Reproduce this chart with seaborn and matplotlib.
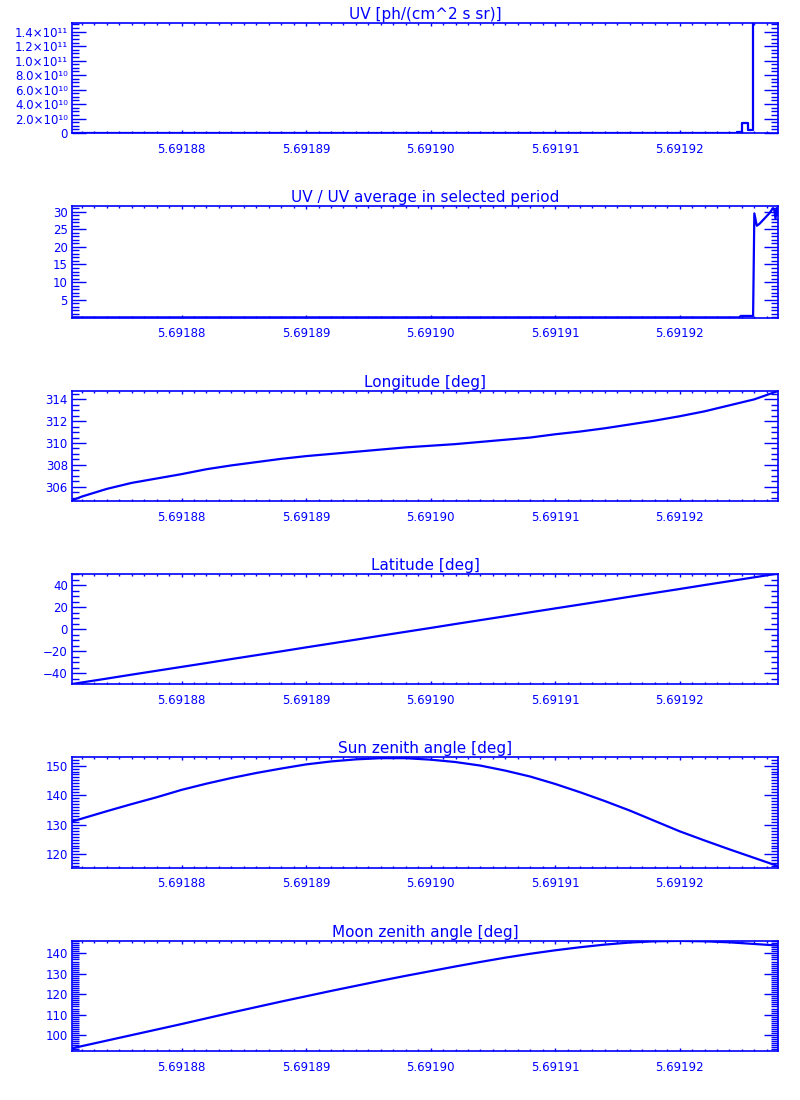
import matplotlib
matplotlib.use("Agg")
import matplotlib.pyplot as plt
import matplotlib.ticker as mticker
import seaborn as sns

sns.set_style("white")
plt.rcParams['font.family'] = ['DejaVu Sans']

BLUE = "#0000ff"

# common time axis for the orbit panels
time = [5.6918712, 5.691872, 5.691874, 5.691876, 5.691878, 5.691880,
        5.691882, 5.691884, 5.691886, 5.691888, 5.691890, 5.691892,
        5.691894, 5.691896, 5.691898, 5.691900, 5.691902, 5.691904,
        5.691906, 5.691908, 5.691910, 5.691912, 5.691914, 5.691916,
        5.691918, 5.691920, 5.691922, 5.691924, 5.691926, 5.691928]

longitude = [304.75, 305.1, 305.8, 306.35, 306.75, 307.15, 307.6, 307.95,
             308.25, 308.55, 308.8, 309.0, 309.2, 309.4, 309.6, 309.75,
             309.9, 310.1, 310.3, 310.5, 310.8, 311.05, 311.35, 311.7,
             312.05, 312.45, 312.9, 313.45, 314.0, 314.8]

latitude = [-49.7, -48.3, -44.8, -41.2, -37.7, -34.2, -30.7, -27.1, -23.6,
            -20.1, -16.5, -13.0, -9.5, -5.9, -2.4, 1.1, 4.7, 8.2, 11.7,
            15.3, 18.8, 22.3, 25.8, 29.4, 32.9, 36.4, 40.0, 43.5, 47.0, 50.6]

sun_zenith = [131.1, 132.1, 134.6, 137.0, 139.3, 141.8, 143.9, 145.8, 147.5,
              149.0, 150.4, 151.4, 152.1, 152.5, 152.5, 152.0, 151.2, 150.0,
              148.3, 146.3, 143.8, 141.0, 138.0, 134.8, 131.3, 127.8, 124.7,
              121.7, 118.8, 115.9]

moon_zenith = [93.5, 94.6, 97.3, 100.0, 102.7, 105.4, 108.2, 111.0, 113.7,
               116.4, 119.0, 121.6, 124.1, 126.6, 129.0, 131.3, 133.6, 135.8,
               137.9, 139.8, 141.5, 143.0, 144.3, 145.3, 145.9, 146.1, 145.9,
               145.4, 144.6, 143.8]

# UV signal (step data)
uv_time = [5.6918712, 5.6919246, 5.6919250, 5.6919255, 5.6919259, 5.6919279]
uv_flux = [0.0, 2.0e9, 1.35e10, 4.0e9, 1.2e12, 1.2e12]

# UV / average
ratio_time = [5.6918712, 5.6919248, 5.6919249, 5.6919259, 5.6919260, 5.6919262,
              5.6919264, 5.6919268, 5.6919272, 5.6919275, 5.6919276, 5.6919277,
              5.6919278, 5.6919279]
ratio = [0.0, 0.0, 0.4, 0.4, 29.5, 26.0, 26.5, 28.0, 29.5, 31.0, 30.5,
         28.0, 31.0, 29.5]

x_ticks = [5.69188, 5.69189, 5.69190, 5.69191, 5.69192]
x_lim = (5.6918712, 5.6919279)

uv_ticks = [0, 2e10, 4e10, 6e10, 8e10, 1e11, 1.2e11, 1.4e11]
uv_labels = ['0', '2.0×10¹⁰', '4.0×10¹⁰', '6.0×10¹⁰', '8.0×10¹⁰',
             '1.0×10¹¹', '1.2×10¹¹', '1.4×10¹¹']

panels = [
    ("UV [ph/(cm^2 s sr)]", uv_time, uv_flux, (0, 1.52e11), uv_ticks, 5e9, uv_labels, 'steps-post'),
    ("UV / UV average in selected period", ratio_time, ratio, (-0.1, 31.6), [5, 10, 15, 20, 25, 30], 1, None, 'default'),
    ("Longitude [deg]", time, longitude, (304.69, 314.79), [306, 308, 310, 312, 314], 0.5, None, 'default'),
    ("Latitude [deg]", time, latitude, (-49.7, 50.0), [-40, -20, 0, 20, 40], 5, None, 'default'),
    ("Sun zenith angle [deg]", time, sun_zenith, (115.5, 152.8), [120, 130, 140, 150], 1, None, 'default'),
    ("Moon zenith angle [deg]", time, moon_zenith, (92.2, 146.2), [100, 110, 120, 130, 140], 1, None, 'default'),
]

# panel tops / bottoms in pixels
tops = [23, 206, 390.7, 574, 757.3, 940.7]
bottoms = [133, 317.7, 501, 684, 867.7, 1051]

fig = plt.figure(figsize=(8, 11), dpi=100)
for i, (title, x, y, ylim, yticks, yminor, ylabels, dstyle) in enumerate(panels):
    ax = fig.add_axes([72 / 800, 1 - bottoms[i] / 1100, 706 / 800,
                       (bottoms[i] - tops[i]) / 1100])
    sns.lineplot(x=x, y=y, ax=ax, color=BLUE, linewidth=1.6,
                 estimator=None, sort=False, drawstyle=dstyle)
    ax.set_xlim(*x_lim)
    ax.set_ylim(*ylim)
    ax.xaxis.set_major_locator(mticker.FixedLocator(x_ticks))
    ax.xaxis.set_major_formatter(mticker.FormatStrFormatter('%.5f'))
    ax.xaxis.set_minor_locator(mticker.MultipleLocator(1e-6))
    ax.yaxis.set_major_locator(mticker.FixedLocator(yticks))
    ax.yaxis.set_minor_locator(mticker.MultipleLocator(yminor))
    if ylabels is not None:
        ax.set_yticklabels(ylabels)
    ax.set_title(title, color=BLUE, fontsize=11, pad=3)
    ax.tick_params(which='both', direction='in', top=True, right=True,
                   bottom=True, left=True,
                   color=BLUE, labelcolor=BLUE, labelsize=8.5, width=1.0)
    ax.tick_params(axis='y', which='major', length=10, pad=3)
    ax.tick_params(axis='y', which='minor', length=5)
    ax.tick_params(axis='x', which='major', length=2.5, pad=7)
    ax.tick_params(axis='x', which='minor', length=1.2)
    for sp in ax.spines.values():
        sp.set_color(BLUE)
        sp.set_linewidth(1.2)
    ax.set_xlabel('')
    ax.set_ylabel('')

fig.savefig('out.png', dpi=100)
